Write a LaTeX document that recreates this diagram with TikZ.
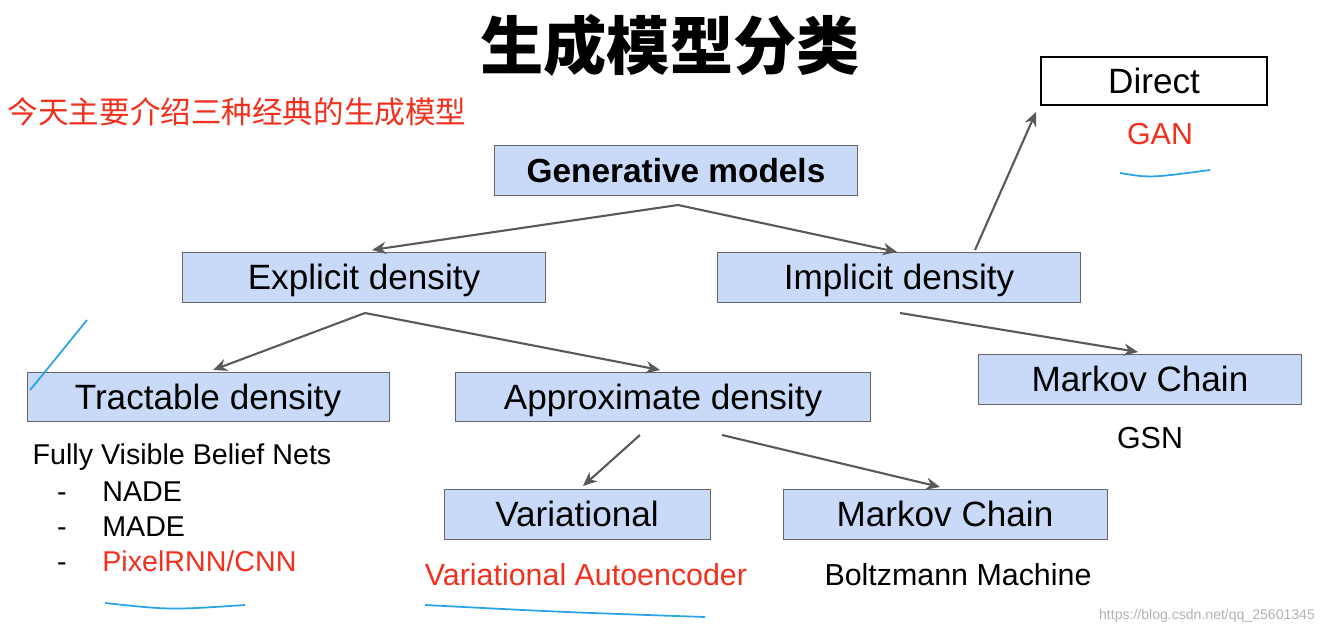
\documentclass[tikz,border=0pt]{standalone}
\usepackage{fontspec}
\setmainfont{Liberation Sans}
\newfontfamily\cjk{Noto Sans CJK SC}
\usetikzlibrary{arrows.meta}
\definecolor{boxblue}{HTML}{C9DAF8}
\definecolor{redtxt}{HTML}{F2301E}
\definecolor{uline}{HTML}{2AA3E8}
\begin{document}
\begin{tikzpicture}[x=0.02cm,y=-0.02cm,
  box/.style={draw=gray!80!black,fill=boxblue,line width=0.5pt,inner sep=0pt,text depth=0pt,font=\fontsize{20}{24}\selectfont},
  lbl/.style={inner sep=0pt,font=\fontsize{16.3}{20}\selectfont},
  big/.style={inner sep=0pt,font=\fontsize{17.3}{20}\selectfont},
  arr/.style={draw=gray!70!black,line width=1.2pt,-{Stealth[length=8pt,width=7pt]}},
  ul/.style={draw=uline,line width=1pt}]
\useasboundingbox (0,0) rectangle (1337,634);
\node[box,minimum width=363*0.02cm,minimum height=50*0.02cm,font=\fontsize{19}{22}\selectfont\bfseries] (gen) at (676,170) {Generative models};
\node[box,minimum width=363*0.02cm,minimum height=50*0.02cm] (exp) at (364,277) {Explicit density};
\node[box,minimum width=363*0.02cm,minimum height=50*0.02cm] (imp) at (899,277) {Implicit density};
\node[draw=black,fill=white,line width=1pt,minimum width=226*0.02cm,minimum height=48*0.02cm,inner sep=0pt,text depth=0pt,font=\fontsize{20}{24}\selectfont] (dir) at (1154,81) {Direct};
\node[box,minimum width=362*0.02cm,minimum height=49*0.02cm] (tra) at (208,397) {Tractable density};
\node[box,minimum width=415*0.02cm,minimum height=49*0.02cm] (app) at (663,397) {Approximate density};
\node[box,minimum width=323*0.02cm,minimum height=50*0.02cm] (mc1) at (1140,379) {Markov Chain};
\node[box,minimum width=266*0.02cm,minimum height=50*0.02cm] (var) at (577,514) {Variational};
\node[box,minimum width=324*0.02cm,minimum height=50*0.02cm] (mc2) at (945,514) {Markov Chain};
\node[inner sep=0pt,font=\cjk\fontsize{36}{42}\selectfont\bfseries] (title) at (670,45) {生成模型分类};
\node[inner sep=0pt,text=redtxt,font=\cjk\fontsize{17.4}{20}\selectfont] (sub) at (237,112) {今天主要介绍三种经典的生成模型};
\node[big,text=redtxt] (gan) at (1160,134) {GAN};
\node[big] (gsn) at (1150,438) {GSN};
\node[lbl] (fvbn) at (182,457) {Fully Visible Belief Nets};
\node[lbl,anchor=base] (d1) at (62,501) {-}; \node[lbl,anchor=base west] (nade) at (102,501) {NADE};
\node[lbl,anchor=base] (d2) at (62,536) {-}; \node[lbl,anchor=base west] (made) at (102,536) {MADE};
\node[lbl,anchor=base] (d3) at (62,571) {-}; \node[lbl,anchor=base west,text=redtxt] (pix) at (102,571) {PixelRNN/CNN};
\node[big,text=redtxt] (vae) at (586,575) {Variational Autoencoder};
\node[big] (bm) at (958,575) {Boltzmann Machine};
\node[inner sep=0pt,text=gray!60,font=\fontsize{8}{10}\selectfont] (wm) at (1207,616) {https://blog.csdn.net/qq\_25601345};
\coordinate (g0) at (678,205); \coordinate (e0) at (365,313); \coordinate (a1) at (640,435);
\coordinate (a2) at (722,435); \coordinate (i0) at (900,313); \coordinate (i1) at (975,250);
\draw[arr] (g0) -- (372,250);
\draw[arr] (g0) -- (897,252);
\draw[arr] (e0) -- (213,370);
\draw[arr] (e0) -- (660,370);
\draw[arr] (a1) -- (583,486);
\draw[arr] (a2) -- (940,487);
\draw[arr] (i0) -- (1138,352);
\draw[arr] (i1) -- (1036,112);
\draw[ul] (1120,173) .. controls (1150,178) .. (1210,170);
\draw[ul] (105,603) .. controls (170,610) .. (245,605);
\draw[ul] (425,605) .. controls (560,612) .. (705,617);
\draw[ul] (30,390) -- (40,378) -- (87,320);
\end{tikzpicture}
\end{document}
